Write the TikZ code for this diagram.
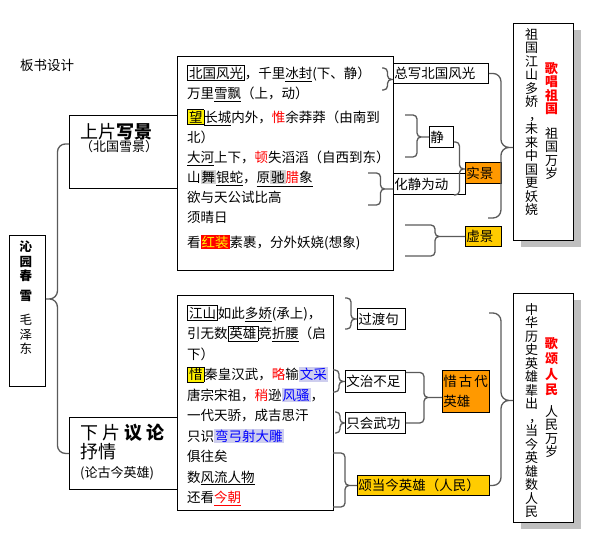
\documentclass[tikz,border=0pt]{standalone}
\usepackage{fontspec}
\setmainfont{Noto Sans CJK SC}
\usepackage{xcolor}
\usepackage{tikz}
\usetikzlibrary{positioning}
\usetikzlibrary{shadows}
\usetikzlibrary{calc}

\definecolor{orangefill}{RGB}{255,153,0}
\definecolor{yellowfill}{RGB}{255,204,0}
\definecolor{hlblue}{RGB}{206,206,238}
\definecolor{hlgray}{RGB}{210,210,210}
\definecolor{bracegray}{RGB}{90,90,90}

\setlength{\fboxsep}{1pt}
\setlength{\fboxrule}{0.8pt}

\newcommand{\markyellow}[1]{\fcolorbox{black}{yellow}{#1}}
\newcommand{\markgray}[1]{\colorbox{hlgray}{#1}}
\newcommand{\markblue}[1]{\colorbox{hlblue}{\textcolor{blue}{#1}}}
\newcommand{\redbold}[1]{\textcolor{red}{\textbf{#1}}}

\tikzstyle{boxframe} = [draw, line width=0.9pt, rectangle, anchor=north west, inner sep=0pt]
\tikzstyle{lbl} = [draw, line width=0.9pt, rectangle, anchor=north west,
    inner sep=1pt, align=left, font=\fontsize{13.5}{20}\selectfont]
\tikzstyle{txt} = [inner sep=0pt, align=left, font=\fontsize{13.5}{20}\selectfont]
\tikzstyle{vtxt} = [inner sep=0pt, align=center, anchor=north,
    font=\fontsize{13}{13.5}\selectfont]
\tikzstyle{shadowbox} = [boxframe, fill=white,
    drop shadow={shadow xshift=8pt, shadow yshift=-7pt, fill=black!25, opacity=1}]
\tikzstyle{bracepath} = [draw=bracegray, line width=1.3pt, rounded corners=4pt]

\newcommand{\joinbrace}[4][]{%
  \draw [bracepath, #1] let \p1=(#2), \p2=(#3), \p3=(#4),
    \p4=($(\p1)!.5!(\p3)$) in
    (\p1) -| (\x4,\y3) -- (\p3)
    (\p2) -| (\x4,\y3) -- (\p3);}

\begin{document}
\begin{tikzpicture}[x=1pt, y=-1pt]
  \useasboundingbox (0,0) rectangle (592,545);

  % Place nodes
  \node [inner sep=0pt, anchor=west, font=\fontsize{13.5}{16}\selectfont] (bsjj) at (20,65) {板书设计};

  \node [boxframe, minimum width=36pt, minimum height=151pt] (qyc) at (9,235) {};
  \node [vtxt, font=\fontsize{12.5}{14.5}\selectfont] (qyctext) at (26,241)
    {\textbf{沁}\\\textbf{园}\\\textbf{春}\\[5pt]\textbf{雪}\\[10pt]毛\\泽\\东};

  \node [boxframe, minimum width=108pt, minimum height=73pt] (shangpian) at (69,115) {};
  \node [txt, below right=8pt and 11pt of shangpian.north west,
         font=\fontsize{18}{14}\selectfont] (shangtext)
    {上片\textbf{写景}\\[-1pt]{\fontsize{13}{14}\selectfont （北国雪景）}};

  \node [boxframe, minimum width=216pt, minimum height=214pt] (upper) at (177,56) {};
  \node [txt, below right=9pt and 10pt of upper.north west] (uppertext) {%
    \fbox{北国风光}，千里\underline{冰封}(下、静）\\
    万里\underline{雪飘}（上，动）\\[4pt]
    \markyellow{望}\underline{长城}内外，\textcolor{red}{惟}余莽莽（由南到\\
    北）\\
    \underline{大河}上下，\textcolor{red}{顿}失滔滔（自西到东）\\
    山\markgray{舞}\underline{银蛇}，\underline{原\markgray{驰}\textcolor{red}{腊}象}\\
    欲与天公试比高\\
    须晴日\\[5pt]
    看\colorbox{red}{\textcolor{yellow}{红装}}素裹，分外妖娆(想象)};

  \node [lbl, text width=93pt, minimum height=20pt] (zongxie) at (393,63) {总写北国风光};
  \node [lbl, text width=22pt, minimum height=21pt] (jing) at (429,126) {静};
  \node [lbl, text width=70pt, minimum height=21pt] (hjwd) at (393,173) {化静为动};
  \node [lbl, text width=34pt, minimum height=21pt, fill=orangefill] (shijing) at (465,162) {实景};
  \node [lbl, text width=34pt, minimum height=20pt, fill=yellowfill] (xujing) at (465,226) {虚景};

  \node [shadowbox, minimum width=60pt, minimum height=217pt] (gechang) at (513,23) {};
  \node [vtxt] (gechang1) at (531.5,28)
    {祖\\国\\江\\山\\多\\娇\\\hspace*{8pt}，\\未\\来\\中\\国\\更\\妖\\娆};
  \node [vtxt] (gechang2) at (551.5,62)
    {\redbold{歌}\\\redbold{唱}\\\redbold{祖}\\\redbold{国}\\[11pt]祖\\国\\万\\岁};

  \node [boxframe, minimum width=108pt, minimum height=72pt] (xiapian) at (69,417) {};
  \node [txt, below right=7pt and 11pt of xiapian.north west,
         font=\fontsize{18}{19}\selectfont] (xiatext)
    {下 片 \textbf{议 论}\\抒情\\{\fontsize{13}{20}\selectfont (论古今英雄)}};

  \node [boxframe, minimum width=156pt, minimum height=215pt] (lower) at (177,295) {};
  \node [txt, below right=10pt and 10pt of lower.north west,
         font=\fontsize{13.5}{20.5}\selectfont] (lowertext) {%
    \fbox{江山}如此\underline{多娇}(承上)，\\
    引无数\fbox{英雄}竞\underline{折腰}（启\\
    下）\\
    \markyellow{惜}秦皇汉武，\textcolor{red}{略}输\markblue{文采}\\
    唐宗宋祖，\textcolor{red}{稍}逊\markblue{风骚}，\\
    一代天骄，成吉思汗\\
    只识\markblue{弯弓射大雕}\\
    俱往矣\\
    数\underline{风流人物}\\
    还看{\color{red}\underline{今朝}}};

  \node [lbl, text width=46pt, minimum height=21pt] (guodu) at (357,308) {过渡句};
  \node [lbl, text width=58pt, minimum height=22pt] (wenzhi) at (345,370) {文治不足};
  \node [lbl, text width=58pt, minimum height=21pt] (wugong) at (345,412) {只会武功};
  \node [lbl, text width=45pt, minimum height=42pt, fill=orangefill] (xigu) at (442,370)
    {惜\kern2pt 古\kern2pt 代\\英雄};
  \node [lbl, text width=130pt, minimum height=20pt, fill=yellowfill] (songdang) at (357,475)
    {颂当今英雄（人民）};

  \node [shadowbox, minimum width=60pt, minimum height=229pt] (gesong) at (513,293) {};
  \node [vtxt] (gesong1) at (531.5,303)
    {中\\华\\历\\史\\英\\雄\\辈\\出\\\hspace*{8pt}，\\当\\今\\英\\雄\\数\\人\\民};
  \node [vtxt] (gesong2) at (551.5,337)
    {\redbold{歌}\\[2pt]\redbold{颂}\\[2pt]\redbold{人}\\[2pt]\redbold{民}\\[8pt]人\\民\\万\\岁};

  % Brace ends
  \coordinate (b1a) at (382,68);
  \coordinate (b1b) at (382,90);
  \coordinate (b2a) at (405,115);
  \coordinate (b2b) at (405,157);
  \coordinate (b3a) at (368,173);
  \coordinate (b3b) at (368,205);
  \coordinate (b4a) at (405,225);
  \coordinate (b4b) at (405,256);
  \coordinate (b5b) at (488,218);
  \coordinate (b6a) at (345,298);
  \coordinate (b6b) at (345,329);
  \coordinate (b7a) at (333,370);
  \coordinate (b7b) at (333,392);
  \coordinate (b8a) at (335,412);
  \coordinate (b8b) at (335,433);
  \coordinate (b9a) at (333,453);
  \coordinate (b9b) at (333,507);
  \coordinate (b10a) at (489,313);

  \joinbrace[rounded corners=8pt]{[yshift=8pt]shangpian.west}{xiapian.west}{[yshift=12pt]qyc.east}

  \joinbrace{b1a}{b1b}{[yshift=-6pt]zongxie.west}
  \joinbrace{b2a}{b2b}{jing.west}
  \joinbrace{b3a}{b3b}{[yshift=-5pt]hjwd.west}
  \joinbrace{[yshift=-5pt]jing.east}{[xshift=-12pt]hjwd.south east}{[yshift=4pt]shijing.west}
  \joinbrace{b4a}{b4b}{xujing.west}
  \joinbrace[rounded corners=8pt]{zongxie.east}{b5b}{[yshift=-15.5pt]gechang.west}

  \joinbrace{b6a}{b6b}{guodu.west}
  \joinbrace{b7a}{b7b}{wenzhi.west}
  \joinbrace{b8a}{b8b}{wugong.west}
  \joinbrace{[yshift=9pt]wenzhi.east}{wugong.east}{[yshift=-6pt]xigu.west}
  \joinbrace{b9a}{b9b}{songdang.west}
  \joinbrace[rounded corners=8pt]{b10a}{songdang.east}{[yshift=7.5pt]gesong.west}

\end{tikzpicture}
\end{document}
